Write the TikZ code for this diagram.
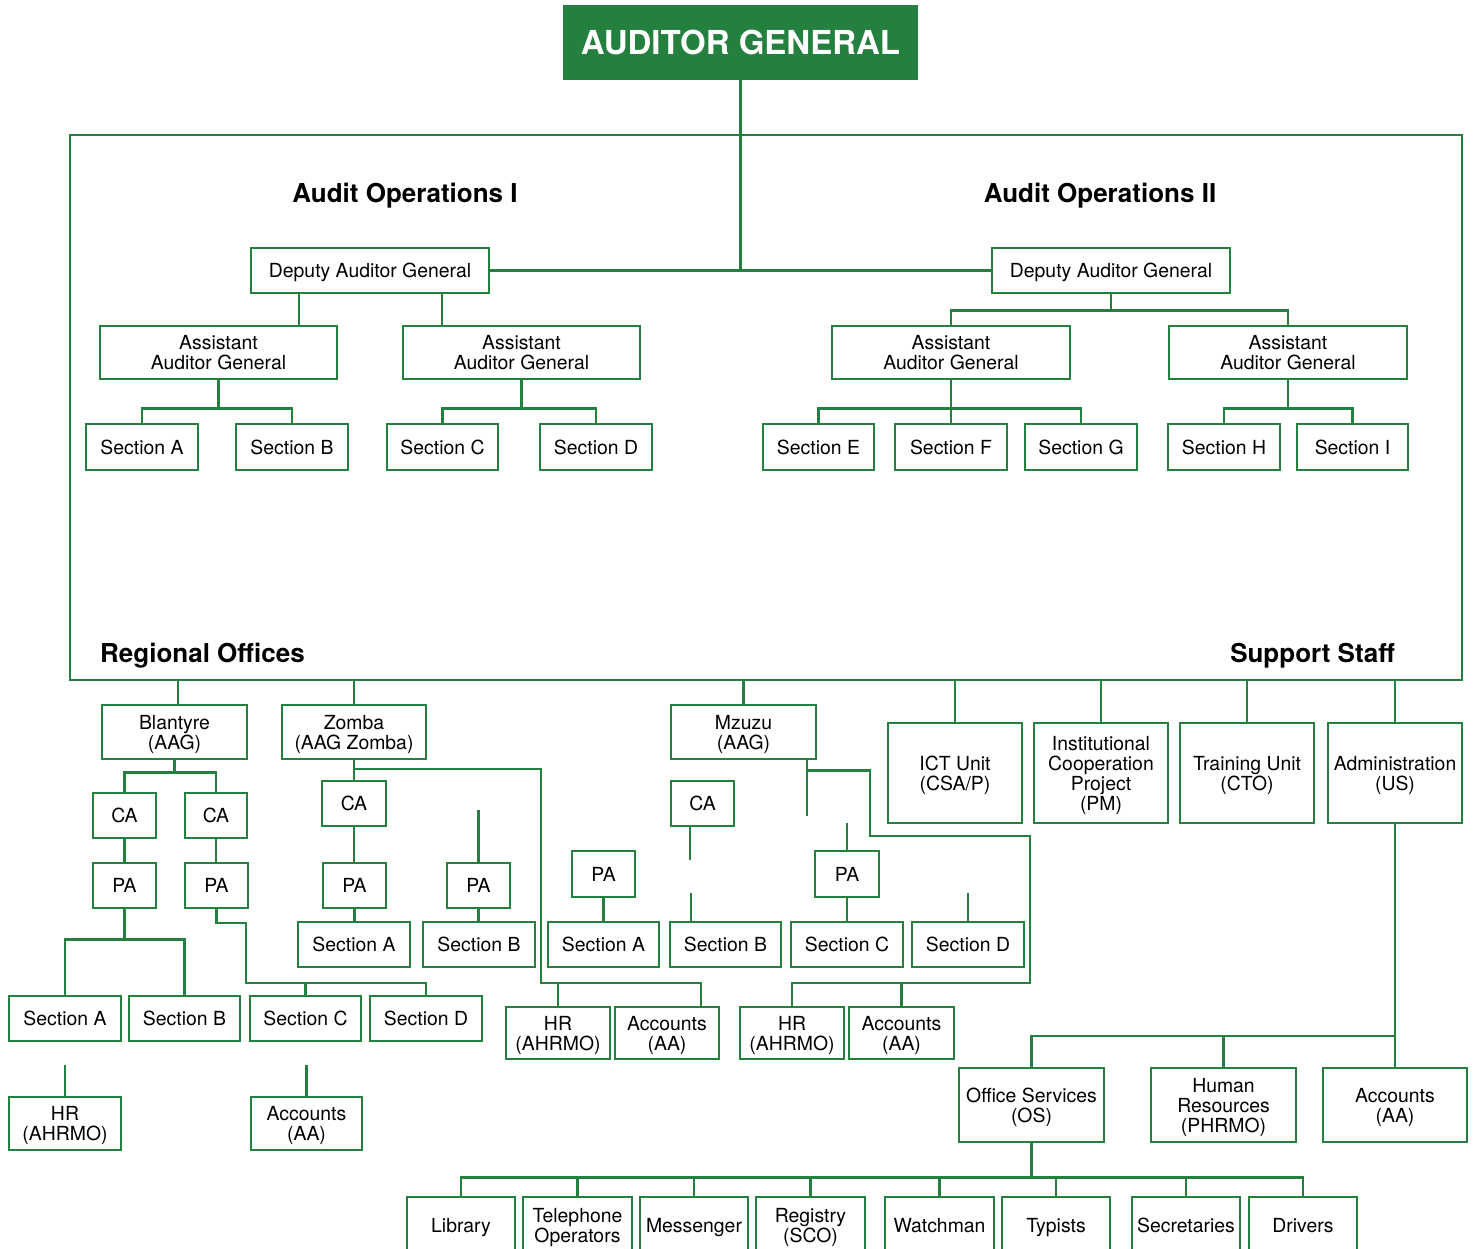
\documentclass[tikz,border=0pt]{standalone}
\usepackage{fontspec}
\setmainfont{TeX Gyre Heros}
\definecolor{ogreen}{RGB}{36,128,62}
\tikzset{
  box/.style={draw=ogreen, line width=2.8pt, inner sep=0pt, align=center, text=black,
    text depth=0pt, font=\fontsize{19.4}{20}\selectfont},
  link/.style={draw=ogreen, line width=2.8pt, line cap=rect},
  head/.style={font=\bfseries\fontsize{26}{30}\selectfont, inner sep=0pt, text depth=0pt},
}
\newcommand\bx[6]{\node[box, minimum width={#4-#2}, minimum height={#5-#3}] (#1) at ({(#2+#4)/2},{(#3+#5)/2}) {#6};}
\newcommand\vlink[2]{\draw[link] (#1.south) -- (#2.north -| #1.south);}
\begin{document}
\begin{tikzpicture}[x=1pt,y=-1pt]
\useasboundingbox (0,0) rectangle (1475,1249);
\clip (0,0) rectangle (1475,1249);
\fill[white] (0,0) rectangle (1475,1249);

% ---- top ----
\node[fill=ogreen, minimum width=355, minimum height=75, inner sep=0pt, text=white, text depth=0pt,
  font=\bfseries\fontsize{33}{36}\selectfont] (AG) at (740.5,42.5) {AUDITOR GENERAL};
\node[draw=ogreen, line width=2.8pt, minimum width=1392, minimum height=545, inner sep=0pt] (frame) at (766,407.5) {};

\node[head] (AO1) at (405,193) {Audit Operations I};
\node[head] (AO2) at (1100,193) {Audit Operations II};
\node[head, anchor=west] (RO) at (100,653) {Regional Offices};
\node[head, anchor=east] (SS) at (1395,653) {Support Staff};

\bx{DAG1}{251}{248}{489}{293}{Deputy Auditor General}
\bx{DAG2}{992}{248}{1230}{293}{Deputy Auditor General}
\bx{AAG1}{100}{326}{337}{379}{Assistant\\Auditor General}
\bx{AAG2}{403}{326}{640}{379}{Assistant\\Auditor General}
\bx{AAG3}{832}{326}{1070}{379}{Assistant\\Auditor General}
\bx{AAG4}{1169}{326}{1407}{379}{Assistant\\Auditor General}
\bx{S1A}{86}{424}{198}{470}{Section A}
\bx{S1B}{236}{424}{348}{470}{Section B}
\bx{S1C}{387}{424}{498}{470}{Section C}
\bx{S1D}{540}{424}{652}{470}{Section D}
\bx{S2E}{763}{424}{874}{470}{Section E}
\bx{S2F}{895}{424}{1007}{470}{Section F}
\bx{S2G}{1025}{424}{1137}{470}{Section G}
\bx{S2H}{1168}{424}{1280}{470}{Section H}
\bx{S2I}{1297}{424}{1408}{470}{Section I}

\draw[link] (AG.south) -- (AG.south |- DAG1.east);
\draw[link] (DAG1.east) -- (DAG2.west);
\draw[link] (DAG1.south -| 299,0) -- (AAG1.north -| 299,0);
\draw[link] (DAG1.south -| 442,0) -- (AAG2.north -| 442,0);
\draw[link] (AAG1.south) -- ++(0,28) coordinate (j1) -| (S1A.north);
\draw[link] (j1) -| (S1B.north);
\draw[link] (AAG2.south) -- ++(0,28) coordinate (j2) -| (S1C.north);
\draw[link] (j2) -| (S1D.north);
\draw[link] (DAG2.south) -- ++(0,16) coordinate (j0) -| (AAG3.north);
\draw[link] (j0) -| (AAG4.north);
\vlink{AAG3}{S2F}
\path (AAG3.south) ++(0,28) coordinate (j3);
\draw[link] (j3) -| (S2E.north);
\draw[link] (j3) -| (S2G.north);
\draw[link] (AAG4.south) -- ++(0,28) coordinate (j4) -| (S2H.north);
\draw[link] (j4) -| (S2I.north);

% ---- regional offices ----
\bx{Bla}{102}{705}{247}{759}{Blantyre\\(AAG)}
\bx{Zom}{282}{705}{426}{759}{Zomba\\(AAG Zomba)}
\bx{Mzu}{671}{705}{816}{759}{Mzuzu\\(AAG)}
\draw[link] (frame.south -| 178,0) -- (Bla.north -| 178,0);
\draw[link] (frame.south -| Zom.north) -- (Zom.north);
\draw[link] (frame.south -| Mzu.north) -- (Mzu.north);

% Blantyre
\bx{CA1}{93}{793}{156}{838}{CA}
\bx{CA2}{185}{793}{247}{838}{CA}
\bx{PA1}{93}{863}{156}{908}{PA}
\bx{PA2}{185}{863}{248}{908}{PA}
\bx{BSA}{9}{996}{121}{1041}{Section A}
\bx{BSB}{129}{996}{240}{1041}{Section B}
\bx{BSC}{250}{996}{361}{1041}{Section C}
\bx{BSD}{370}{996}{482}{1041}{Section D}
\bx{BHR}{9}{1097}{121}{1150}{HR\\(AHRMO)}
\bx{BAcc}{251}{1097}{362}{1150}{Accounts\\(AA)}
\draw[link] (Bla.south) -- ++(0,12) coordinate (jb) -| (CA1.north);
\draw[link] (jb) -| (CA2.north);
\vlink{CA1}{PA1}
\vlink{CA2}{PA2}
\draw[link] (PA1.south) -- ++(0,30) coordinate (jp) -| (BSA.north);
\draw[link] (jp) -| (BSB.north);
\draw[link] (PA2.south) |- (246,923) |- (BSD.north |- 0,983) -- (BSD.north);
\draw[link] (BSC.north) -- (BSC.north |- 0,983);
\draw[link] (BHR.north) -- ++(0,-29);
\draw[link] (BAcc.north) -- ++(0,-29);

% Zomba
\bx{CA3}{322}{781}{386}{826}{CA}
\bx{PA3}{323}{863}{386}{908}{PA}
\bx{PA4}{447}{863}{510}{908}{PA}
\bx{ZSA}{298}{922}{410}{967}{Section A}
\bx{ZSB}{423}{922}{535}{967}{Section B}
\bx{ZHR}{506}{1007}{610}{1059}{HR\\(AHRMO)}
\bx{ZAcc}{615}{1007}{719}{1059}{Accounts\\(AA)}
\vlink{Zom}{CA3}
\vlink{CA3}{PA3}
\vlink{PA3}{ZSA}
\draw[link] (PA4.north) -- ++(0,-50);
\vlink{PA4}{ZSB}
\draw[link] (Zom.south |- 0,769) -| (541,983) -| (ZAcc.north -| 701,0);
\draw[link] (ZHR.north) -- (ZHR.north |- 0,983);

% Mzuzu
\bx{MCA}{671}{781}{734}{826}{CA}
\bx{MPA1}{572}{851}{635}{897}{PA}
\bx{MPA2}{815}{851}{879}{897}{PA}
\bx{MSA}{548}{922}{659}{967}{Section A}
\bx{MSB}{670}{922}{781}{967}{Section B}
\bx{MSC}{791}{922}{903}{967}{Section C}
\bx{MSD}{912}{922}{1024}{967}{Section D}
\bx{MHR}{740}{1007}{844}{1059}{HR\\(AHRMO)}
\bx{MAcc}{849}{1007}{954}{1059}{Accounts\\(AA)}
\draw[link] (Mzu.south -| 807,0) -- ++(0,54);
\draw[link] (Mzu.south -| 807,0) ++(0,10) -| (870,836) -| (1030,983) -| (MHR.north);
\draw[link] (MAcc.north) -- (MAcc.north |- 0,983);
\draw[link] (MCA.south -| 690,0) -- ++(0,31);
\vlink{MPA1}{MSA}
\draw[link] (MSB.north -| 691,0) -- ++(0,-26);
\draw[link] (MPA2.north) -- ++(0,-25);
\vlink{MPA2}{MSC}
\draw[link] (MSD.north) -- ++(0,-26);

% ---- support staff ----
\bx{ICT}{888}{723}{1022}{823}{ICT Unit\\(CSA/P)}
\bx{ICP}{1034}{723}{1168}{823}{Institutional\\Cooperation\\Project\\(PM)}
\bx{TU}{1180}{723}{1314}{823}{Training Unit\\(CTO)}
\bx{ADM}{1328}{723}{1462}{823}{Administration\\(US)}
\foreach \n in {ICT,ICP,TU,ADM} \draw[link] (frame.south -| \n.north) -- (\n.north);

\bx{OS}{959}{1068}{1104}{1142}{Office Services\\(OS)}
\bx{PHR}{1151}{1068}{1296}{1142}{Human\\Resources\\(PHRMO)}
\bx{SAcc}{1323}{1068}{1467}{1142}{Accounts\\(AA)}
\vlink{ADM}{SAcc}
\draw[link] (ADM.south |- 0,1036) -| (OS.north);
\draw[link] (PHR.north) -- (PHR.north |- 0,1036);

\bx{Lib}{407}{1197}{515}{1253}{Library}
\bx{Tel}{523}{1197}{632}{1253}{Telephone\\Operators}
\bx{Mes}{640}{1197}{748}{1253}{Messenger}
\bx{Reg}{756}{1197}{865}{1253}{Registry\\(SCO)}
\bx{Wat}{885}{1197}{994}{1253}{Watchman}
\bx{Typ}{1002}{1197}{1110}{1253}{Typists}
\bx{Sec}{1132}{1197}{1240}{1253}{Secretaries}
\bx{Drv}{1249}{1197}{1357}{1253}{Drivers}
\draw[link] (OS.south) -- ++(0,34) coordinate (jo);
\foreach \n in {Lib,Tel,Mes,Reg,Wat,Typ,Sec,Drv} \draw[link] (jo) -| (\n.north);
\end{tikzpicture}
\end{document}
